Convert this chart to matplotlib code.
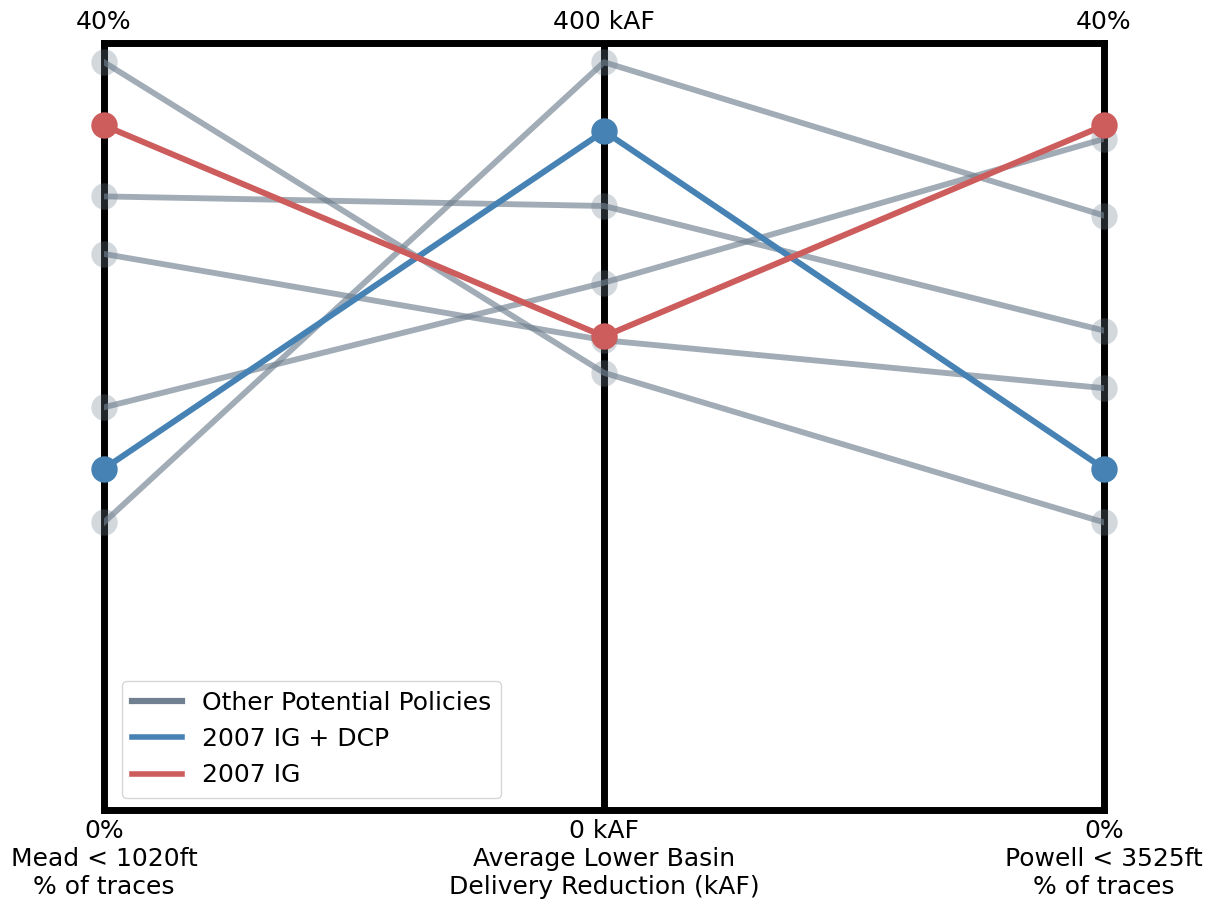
import matplotlib
matplotlib.use("Agg")
import matplotlib.pyplot as plt
from matplotlib.lines import Line2D

# Data
axis_titles = ["Mead < 1020ft\n% of traces",
               "Average Lower Basin\nDelivery Reduction (kAF)",
               "Powell < 3525ft\n% of traces"]
axis_max = [40, 400, 40]
top_labels = ["40%", "400 kAF", "40%"]
bottom_labels = ["0%", "0 kAF", "0%"]

other_mead = [39.0, 32.0, 29.0, 21.0, 15.0]
other_lb = [228, 315, 245, 275, 390]
other_powell = [15.0, 25.0, 22.0, 35.0, 31.0]

dcp_vals = [17.8, 354, 17.8]
ig_vals = [35.7, 247, 35.7]

fig = plt.figure(figsize=(12.12, 9), dpi=100)
ax = fig.add_axes([104/1212, 90/900, 1000/1212, 767/900])
ax.set_xlim(0, 2)
ax.set_ylim(0, 1)

def norm(vals):
    return [v / m for v, m in zip(vals, axis_max)]

xs = [0, 1, 2]
gray = "#708090"
for m, l, p in zip(other_mead, other_lb, other_powell):
    ys = norm([m, l, p])
    ax.plot(xs, ys, color=gray, lw=4.2, alpha=0.65, zorder=2)
    ax.plot(xs, ys, "o", color=gray, ms=19, alpha=0.3, mec="none", zorder=2, clip_on=False)

ax.plot(xs, norm(dcp_vals), color="#4682B4", lw=4.3, zorder=4)
ax.plot(xs, norm(dcp_vals), "o", color="#4682B4", ms=19, mec="none", zorder=4, clip_on=False)
ax.plot(xs, norm(ig_vals), color="#CD5C5C", lw=4.3, zorder=4)
ax.plot(xs, norm(ig_vals), "o", color="#CD5C5C", ms=19, mec="none", zorder=4, clip_on=False)

ax.axvline(1, color="black", lw=5, zorder=1.5)
for s in ax.spines.values():
    s.set_linewidth(5)
    s.set_color("black")
    s.set_zorder(1.5)
ax.set_xticks([])
ax.set_yticks([])

fs = 18
for x, t, b, title in zip(xs, top_labels, bottom_labels, axis_titles):
    ax.text(x, 1.012, t, ha="center", va="bottom", fontsize=fs, clip_on=False)
    ax.text(x, -0.012, b + "\n" + title, ha="center", va="top", fontsize=fs,
            linespacing=1.2, clip_on=False)

handles = [Line2D([0], [0], color=gray, lw=4.5),
           Line2D([0], [0], color="#4682B4", lw=4),
           Line2D([0], [0], color="#CD5C5C", lw=4)]
ax.legend(handles, ["Other Potential Policies", "2007 IG + DCP", "2007 IG"],
          loc="lower left", fontsize=fs, bbox_to_anchor=(0.005, 0.0), borderaxespad=0.5)

fig.savefig("out.png", dpi=100)
